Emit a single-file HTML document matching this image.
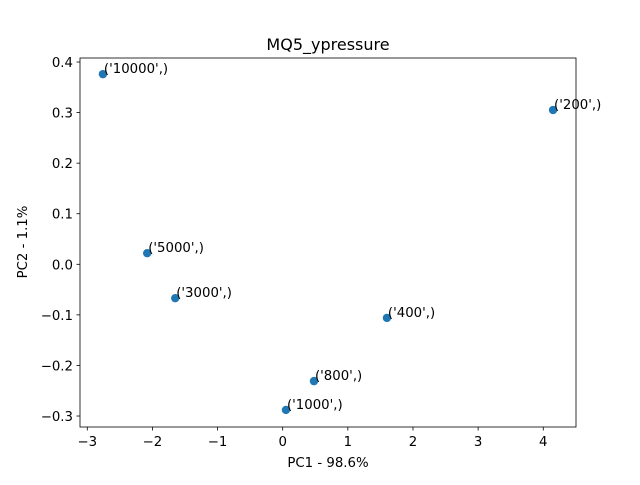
<!DOCTYPE html>
<html><head><meta charset="utf-8"><style>
body{margin:0;background:#fff;}
svg text{font-family:"DejaVu Sans","Liberation Sans",sans-serif;}
</style></head><body>
<svg id="chart" width="640" height="480" xmlns="http://www.w3.org/2000/svg">
<rect width="640" height="480" fill="#fff"/>
<text x="328" y="50" font-size="16" text-anchor="middle">MQ5_ypressure</text>
<g id="plot"></g>
<rect x="80" y="58" width="496" height="369" fill="none" stroke="#000" stroke-width="0.8"/>
<text x="328" y="467" font-size="13.3" text-anchor="middle">PC1 - 98.6%</text>
<text transform="translate(27,242) rotate(-90)" font-size="13.3" text-anchor="middle">PC2 - 1.1%</text>
</svg>
<script>
const labels=["('10000',)","('200',)","('5000',)","('3000',)","('400',)","('800',)","('1000',)"];
const pc1=[-2.76,4.15,-2.08,-1.65,1.60,0.48,0.05];
const pc2=[0.376,0.305,0.022,-0.067,-0.106,-0.231,-0.288];
const xTicks=[-3,-2,-1,0,1,2,3,4];
const yTicks=[-0.3,-0.2,-0.1,0.0,0.1,0.2,0.3,0.4];
const NS="http://www.w3.org/2000/svg";
const xs=v=>282.7+v*65.14;
const ys=v=>264.3-v*505.7;
const g=document.getElementById('plot');
function mk(t,a){const e=document.createElementNS(NS,t);for(const k in a)e.setAttribute(k,a[k]);g.appendChild(e);return e;}
xTicks.forEach(t=>{const x=xs(t);
const l=mk('line',{x1:x,x2:x,y1:427,y2:430.5,stroke:'#000','stroke-width':0.8});


const tx=mk('text',{x:x,y:446,'font-size':13.3,'text-anchor':'middle'});tx.textContent=(t<0?'\u2212'+(-t):t);

});
yTicks.forEach(t=>{const y=ys(t);
const l=mk('line',{x1:76.5,x2:80,y1:y,y2:y,stroke:'#000','stroke-width':0.8});


const tx=mk('text',{x:73,y:y+5,'font-size':13.3,'text-anchor':'end'});tx.textContent=(t<0?'\u2212'+(-t).toFixed(1):t.toFixed(1));

});
pc1.forEach((v,i)=>{const x=xs(v),y=ys(pc2[i]);
const c=mk('circle',{cx:x,cy:y,r:4.2,fill:'#1f77b4'});


const tx=mk('text',{x:x+1,y:y-1,'font-size':13.3});tx.textContent=labels[i];

});
</script>
</body></html>
